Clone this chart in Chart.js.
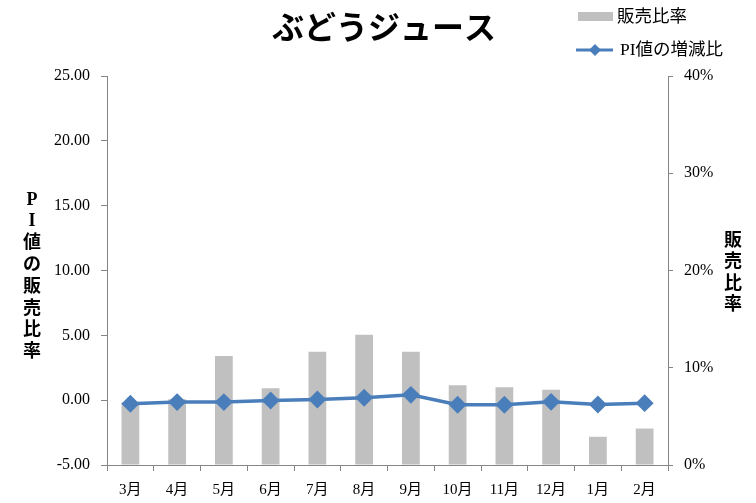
<!DOCTYPE html>
<html>
<head>
<meta charset="utf-8">
<script src="https://cdn.jsdelivr.net/npm/chart.js@4.4.1/dist/chart.umd.min.js"></script>
<style>
  html,body{margin:0;padding:0;background:#fff;}
  #wrap{width:756px;height:503px;position:relative;}
</style>
</head>
<body>
<div id="wrap"><canvas id="c" width="756" height="503"></canvas></div>
<script>
const months = ["3月","4月","5月","6月","7月","8月","9月","10月","11月","12月","1月","2月"];
const salesRatio = [6.4, 6.75, 11.2, 7.9, 11.65, 13.4, 11.65, 8.2, 8.0, 7.75, 2.9, 3.75]; // %
const piChange = [-0.28, -0.15, -0.15, -0.02, 0.05, 0.18, 0.41, -0.35, -0.35, -0.13, -0.33, -0.23];
const leftRange = [-5, 25, 5];
const rightRange = [0, 40, 10];

const titleText = "ぶどうジュース";
const leftTitle = ["P","I","値","の","販","売","比","率"];
const rightTitle = ["販","売","比","率"];

const serif = "'Liberation Serif','Noto Sans CJK JP',serif";
const gothic = "'Noto Sans CJK JP',sans-serif";
const axisGray = "#868686";
const barGray = "#c0c0c0";
const lineBlue = "#4a7ebb";

// title, legend and stacked axis titles
const decor = {
  id: "decor",
  afterDraw(chart){
    const ctx = chart.ctx;
    ctx.save();
    ctx.fillStyle = "#000";
    ctx.textBaseline = "middle";
    ctx.textAlign = "center";
    ctx.font = "bold 32px " + gothic;
    ctx.fillText(titleText, 384, 27);

    ctx.font = "bold 18px " + serif;
    leftTitle.forEach((ch,i)=>ctx.fillText(ch, 32, 200 + i*21.8));
    rightTitle.forEach((ch,i)=>ctx.fillText(ch, 733, 241 + i*21.5));

    // legend
    const bar = chart.data.datasets[1], line = chart.data.datasets[0];
    ctx.textAlign = "left";
    ctx.font = "17.5px " + serif;
    ctx.fillStyle = bar.backgroundColor;
    ctx.fillRect(578, 12, 35, 9);
    ctx.fillStyle = "#000";
    ctx.fillText(bar.label, 617, 17);

    ctx.strokeStyle = line.borderColor;
    ctx.lineWidth = 3;
    ctx.beginPath(); ctx.moveTo(576, 50); ctx.lineTo(613, 50); ctx.stroke();
    ctx.fillStyle = line.borderColor;
    ctx.beginPath();
    ctx.moveTo(595, 44); ctx.lineTo(601, 50); ctx.lineTo(595, 56); ctx.lineTo(589, 50);
    ctx.closePath(); ctx.fill();
    ctx.fillStyle = "#000";
    ctx.fillText(line.label, 620, 50);
    ctx.restore();
  }
};

new Chart(document.getElementById("c"), {
  data: {
    labels: months,
    datasets: [
      {
        type: "line", label: "PI値の増減比", data: piChange, yAxisID: "y", order: 0,
        borderColor: lineBlue, backgroundColor: lineBlue, borderWidth: 3.5,
        pointStyle: "rectRot", pointRadius: 6.5, pointHoverRadius: 6.5, tension: 0
      },
      {
        type: "bar", label: "販売比率", data: salesRatio, yAxisID: "y1", order: 1,
        backgroundColor: barGray, barPercentage: 0.38, categoryPercentage: 1
      }
    ]
  },
  options: {
    responsive: false, animation: false,
    layout: { padding: { top: 76, right: 0, left: 0, bottom: 0 } },
    plugins: { legend: { display: false }, tooltip: { enabled: false } },
    scales: {
      x: {
        offset: true,
        grid: { display: true, drawOnChartArea: false, offset: true, tickLength: 6, color: axisGray },
        border: { color: axisGray },
        ticks: { color: "#000", font: { family: serif, size: 15 }, padding: 10 },
        afterFit: s => { s.height = 38; }
      },
      y: {
        position: "left", min: leftRange[0], max: leftRange[1],
        grid: { drawOnChartArea: false, tickLength: 6, color: axisGray },
        border: { color: axisGray },
        ticks: { stepSize: leftRange[2], color: "#000", font: { family: serif, size: 16 }, padding: 11,
                 callback: v => v.toFixed(2) },
        afterFit: s => { s.width = 107; }
      },
      y1: {
        position: "right", min: rightRange[0], max: rightRange[1],
        grid: { drawOnChartArea: false, tickLength: 5, color: axisGray },
        border: { color: axisGray },
        ticks: { stepSize: rightRange[2], color: "#000", font: { family: serif, size: 16 }, padding: 11,
                 callback: v => v + "%" },
        afterFit: s => { s.width = 88; }
      }
    }
  },
  plugins: [decor]
});
</script>
</body>
</html>
